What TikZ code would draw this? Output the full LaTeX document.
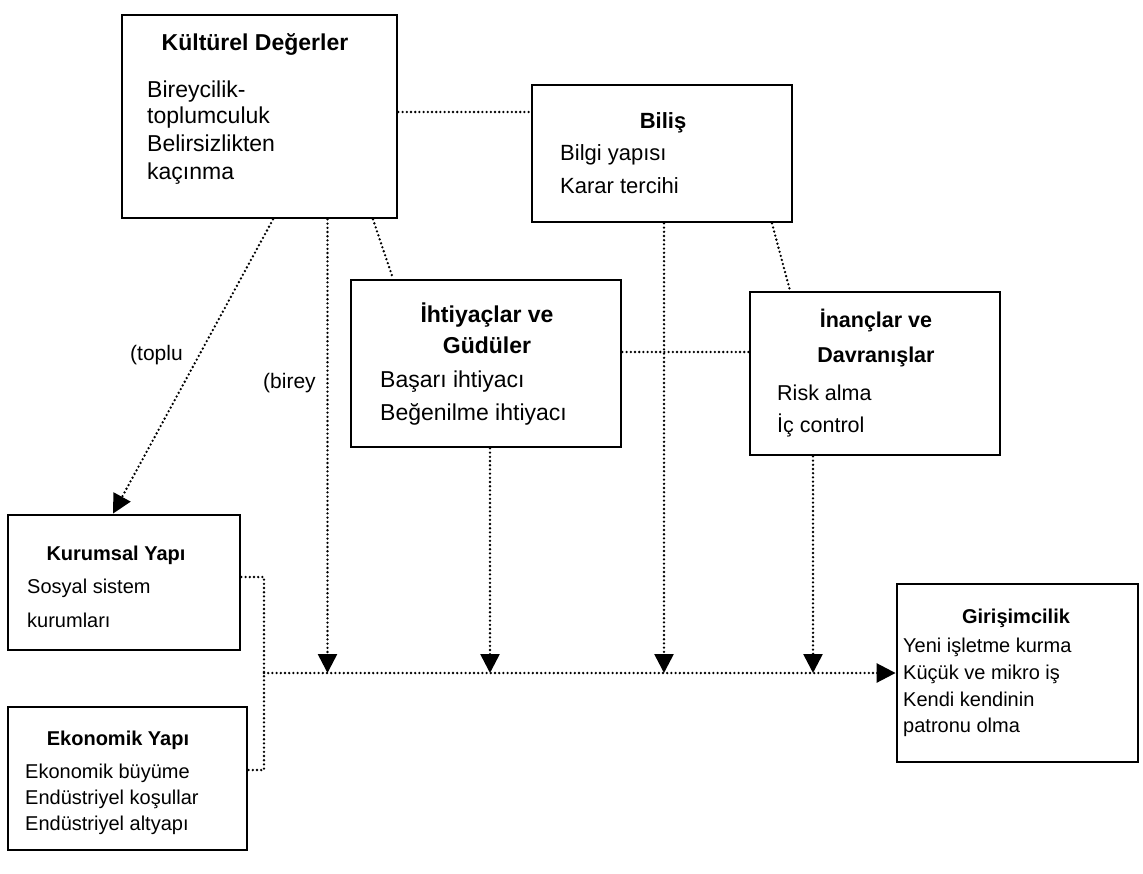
\documentclass[tikz,border=0pt]{standalone}
\usepackage{fontspec}
\setmainfont{Liberation Sans}
\usetikzlibrary{arrows.meta,calc}
\tikzset{
  box/.style={draw=black, line width=2.8pt, fill=white, inner sep=0pt, rectangle},
  conn/.style={line width=2.6pt, line cap=round, dash pattern=on 0pt off 4.2pt, black},
  arr/.style={-{Triangle[length=19pt,width=19pt]}},
  fs/.style={font=\fontsize{#1}{#1}\selectfont},
  tl/.style={anchor=base west, inner sep=0pt},
  tt/.style={anchor=base, inner sep=0pt}
}
\begin{document}
\begin{tikzpicture}[x=1pt,y=-1pt]
\useasboundingbox[fill=white] (0,0) rectangle (1143,873);

% boxes
\node[box, minimum width=275pt, minimum height=203pt] (kd) at (259.5,116.5) {};
\node[box, minimum width=260pt, minimum height=137pt] (bi) at (662,153.5) {};
\node[box, minimum width=270pt, minimum height=167pt] (ih) at (486,363.5) {};
\node[box, minimum width=250pt, minimum height=163pt] (in) at (875,373.5) {};
\node[box, minimum width=232pt, minimum height=135pt] (ku) at (124,582.5) {};
\node[box, minimum width=239pt, minimum height=143pt] (ek) at (127.5,778.5) {};
\node[box, minimum width=241pt, minimum height=178pt] (gi) at (1017.5,673) {};
\coordinate (j) at (264,673);

% connectors
\draw[conn] ([yshift=4.5pt]kd.east) -- ([yshift=4.5pt]kd.east -| bi.west);
\draw[conn,arr] ([xshift=13.5pt]kd.south) -- ([xshift=-11pt]ku.north);
\draw[conn,arr] ([xshift=68pt]kd.south) -- ([xshift=68pt]kd.south |- j);
\draw[conn] ([xshift=113.5pt]kd.south) -- ([xshift=-93pt]ih.north);
\draw[conn] ([xshift=110pt]bi.south) -- ([xshift=-85pt]in.north);
\draw[conn,arr] ([xshift=2pt]bi.south) -- ([xshift=2pt]bi.south |- j);
\draw[conn] ([yshift=11.5pt]ih.east) -- ([yshift=11.5pt]ih.east -| in.west);
\draw[conn,arr] ([xshift=4pt]ih.south) -- ([xshift=4pt]ih.south |- j);
\draw[conn,arr] ([xshift=-62pt]in.south) -- ([xshift=-62pt]in.south |- j);
\draw[conn] ([yshift=5.5pt]ku.east) -| (j) |- ([yshift=8.5pt]ek.east);
\draw[conn,arr] (j) -- (gi.west);

% Kulturel
\node[tt,fs=23] (kdT) at (255,50) {\bfseries Kültürel Değerler};
\node[tl,fs=23] (kd1) at (147,97) {Bireycilik-};
\node[tl,fs=23] (kd2) at (147,123) {toplumculuk};
\node[tl,fs=23] (kd3) at (147,151) {Belirsizlikten};
\node[tl,fs=23] (kd4) at (147,179) {kaçınma};
% Bilis
\node[tt,fs=22] (biT) at (663,128) {\bfseries Biliş};
\node[tl,fs=22] (bi1) at (560,160) {Bilgi yapısı};
\node[tl,fs=22] (bi2) at (560,193) {Karar tercihi};
% Ihtiyaclar
\node[tt,fs=23] (ihT1) at (487,322) {\bfseries İhtiyaçlar ve};
\node[tt,fs=23] (ihT2) at (487,353) {\bfseries Güdüler};
\node[tl,fs=23] (ih1) at (380,387) {Başarı ihtiyacı};
\node[tl,fs=23] (ih2) at (380,420) {Beğenilme ihtiyacı};
% Inanclar
\node[tt,fs=21.5] (inT1) at (876,327) {\bfseries İnançlar ve};
\node[tt,fs=21.5] (inT2) at (876,362) {\bfseries Davranışlar};
\node[tl,fs=21.5] (in1) at (777,400) {Risk alma};
\node[tl,fs=21.5] (in2) at (777,432) {İç control};
% Kurumsal
\node[tt,fs=20] (kuT) at (116,560) {\bfseries Kurumsal Yapı};
\node[tl,fs=20] (ku1) at (27,593) {Sosyal sistem};
\node[tl,fs=20] (ku2) at (27,627) {kurumları};
% Ekonomik
\node[tt,fs=20] (ekT) at (118,745) {\bfseries Ekonomik Yapı};
\node[tl,fs=20] (ek1) at (25,778) {Ekonomik büyüme};
\node[tl,fs=20] (ek2) at (25,804) {Endüstriyel koşullar};
\node[tl,fs=20] (ek3) at (25,830) {Endüstriyel altyapı};
% Girisimcilik
\node[tt,fs=20] (giT) at (1016,623) {\bfseries Girişimcilik};
\node[tl,fs=20] (gi1) at (903,652) {Yeni işletme kurma};
\node[tl,fs=20] (gi2) at (903,679) {Küçük ve mikro iş};
\node[tl,fs=20] (gi3) at (903,706) {Kendi kendinin};
\node[tl,fs=20] (gi4) at (903,732) {patronu olma};
% labels
\node[tl,fs=21] (lt) at (130,360) {(toplu};
\node[tl,fs=21] (lb) at (263,388) {(birey};
\end{tikzpicture}
\end{document}
